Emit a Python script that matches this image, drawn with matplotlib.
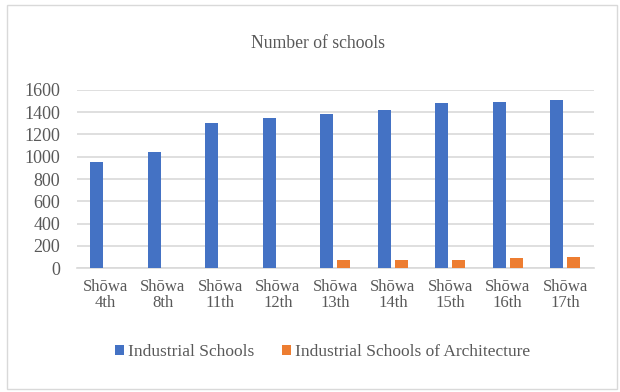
import matplotlib.pyplot as plt
import matplotlib.patches as mpatches
import numpy as np

# Данные
categories = ["Shōwa\n4th", "Shōwa\n8th", "Shōwa\n11th", "Shōwa\n12th", "Shōwa\n13th",
              "Shōwa\n14th", "Shōwa\n15th", "Shōwa\n16th", "Shōwa\n17th"]
industrial = [955, 1042, 1305, 1350, 1380, 1418, 1481, 1493, 1508]
architecture = [0, 0, 0, 0, 77, 77, 77, 90, 104]
y_ticks = [0, 200, 400, 600, 800, 1000, 1200, 1400, 1600]

text_color = "#595959"
plt.rcParams["font.family"] = ["Liberation Serif", "DejaVu Serif"]

fig = plt.figure(figsize=(6.2, 3.92), dpi=100)
ax = fig.add_axes([76.7 / 620, 1 - 268.3 / 392, (594 - 76.7) / 620, (268.3 - 89.7) / 392])

x = np.arange(len(categories))
w = 0.225
ax.bar(x - 0.148, industrial, w, color="#4472C4", label="Industrial Schools", zorder=3)
ax.bar(x + 0.148, architecture, w, color="#ED7D31", label="Industrial Schools of Architecture", zorder=3)

ax.set_xlim(-0.5, len(categories) - 0.5)
ax.set_ylim(0, 1600)
ax.set_yticks(y_ticks)
ax.set_xticks(x)
ax.set_xticklabels(categories, color=text_color, fontsize=12, linespacing=1.0)
ax.tick_params(axis="y", colors=text_color, labelsize=13, length=0, pad=12)
ax.tick_params(axis="x", length=0, pad=8)
ax.grid(axis="y", color="#D9D9D9", linewidth=1.2, zorder=0)
for s in ["top", "right", "left"]:
    ax.spines[s].set_visible(False)
ax.spines["bottom"].set_color("#D9D9D9")
ax.spines["bottom"].set_linewidth(1.2)

fig.text(318 / 620, 1 - 43 / 392, "Number of schools", ha="center", va="center",
         fontsize=12.7, color=text_color)

leg = fig.legend(loc="center", bbox_to_anchor=(322.5 / 620, 1 - 352 / 392), ncol=2,
                 frameon=False, fontsize=12.5, handlelength=0.5, handleheight=0.5,
                 handletextpad=0.25, columnspacing=1.6)
for t in leg.get_texts():
    t.set_color(text_color)

# Рамка вокруг диаграммы
fig.patches.append(mpatches.Rectangle((7 / 620, 1 - 389 / 392), 610 / 620, 384 / 392,
                                      transform=fig.transFigure, fill=False,
                                      edgecolor="#D9D9D9", linewidth=1))

fig.savefig("out.png", dpi=100)
